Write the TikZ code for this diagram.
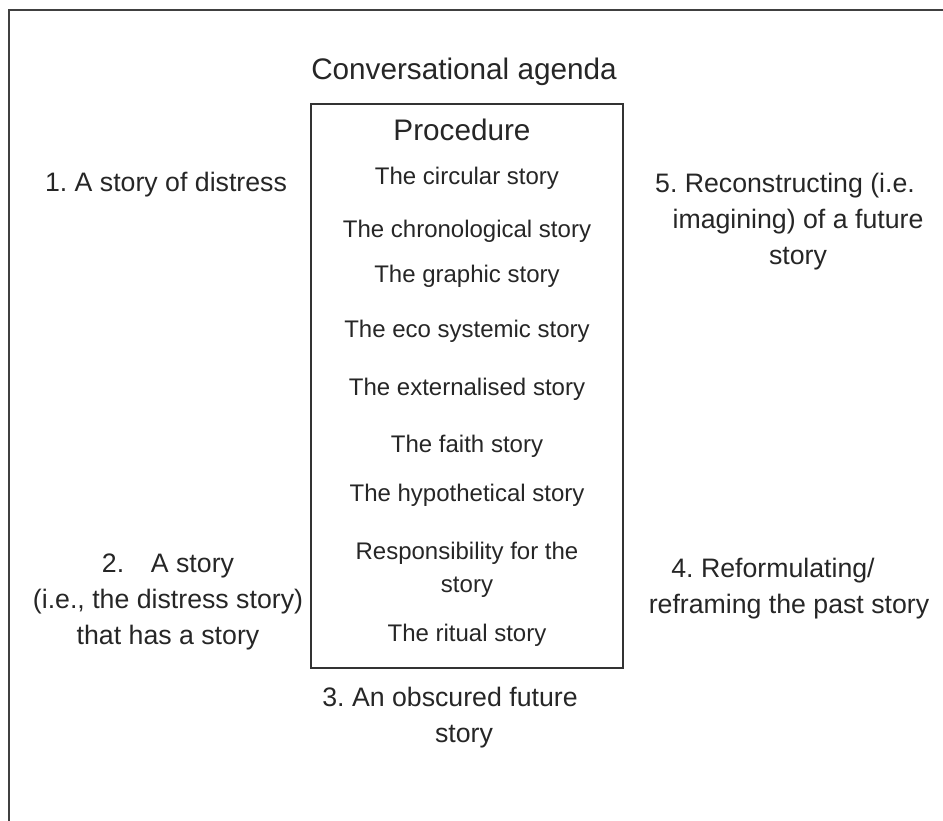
\documentclass[tikz,border=0pt]{standalone}
\usepackage{fontspec}
\setmainfont{Liberation Sans}
\usepackage{tikz}
\usetikzlibrary{positioning}
\frenchspacing
\tikzset{
  heading/.style={
    font=\fontsize{29.7}{36}\selectfont,
    text=black!85,
    inner sep=0pt
  },
  stage/.style={
    align=center,
    font=\fontsize{26.7}{36}\selectfont,
    text=black!85,
    inner sep=0pt
  },
  storyitem/.style={
    align=center,
    font=\fontsize{24}{33}\selectfont,
    text=black!85,
    inner sep=0pt
  },
  procframe/.style={
    draw=black!80,
    line width=1.3pt,
    minimum width=312pt,
    minimum height=564pt,
    inner sep=0pt
  }
}

\begin{document}
\begin{tikzpicture}[x=1pt, y=-1pt]
  \useasboundingbox (0,0) rectangle (943,821);
  % Outer frame
  \draw[line width=1.8pt, black!75] (9,821) -- (9,10) -- (943,10);

  % Agenda and procedure box
  \node[heading] (agenda) at (464,72) {Conversational agenda};
  \node[procframe] (procbox) at (467,386) {};
  \node[heading] (procedure) at (462,130) {Procedure};

  % Stories inside the box
  \node[storyitem] (circular) at (467,178) {The circular story};
  \node[storyitem] (chrono) at (467,231) {The chronological story};
  \node[storyitem] (graphic) at (467,276) {The graphic story};
  \node[storyitem] (eco) at (467,331) {The eco systemic story};
  \node[storyitem] (extern) at (467,389) {The externalised story};
  \node[storyitem] (faith) at (467,446) {The faith story};
  \node[storyitem] (hypo) at (467,495) {The hypothetical story};
  \node[storyitem] (respons) at (467,570) {Responsibility for the\\story};
  \node[storyitem] (ritual) at (467,635) {The ritual story};

  % Stages round the box
  \node[stage] (distress) at (166,185) {1. A story of distress};
  \node[stage] (hasstory) at (168,602) {2.\quad A story\\(i.e., the distress story)\\that has a story};
  \node[stage] (obscured) at (450,718) {3. An obscured future\\\hspace*{28pt}story};
  \node[stage] (reform) at (789,589) {4. Reformulating/\hspace*{32pt}\\reframing the past story};
  \node[stage] (future) at (798,222) {5. Reconstructing (i.e.\hspace*{26pt}\\imagining) of a future\\story};
\end{tikzpicture}
\end{document}
